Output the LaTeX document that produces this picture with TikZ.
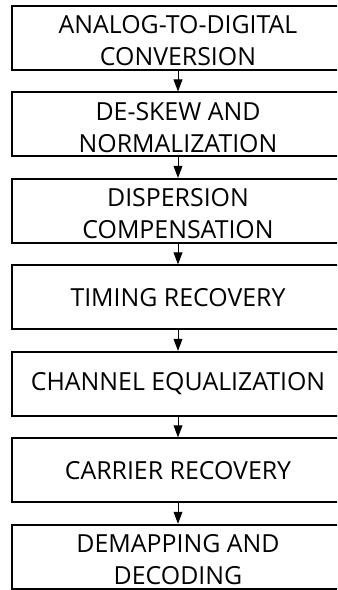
\documentclass[tikz,border=0pt]{standalone}
\usepackage{fontspec}
\setmainfont{Open Sans}
\usetikzlibrary{arrows.meta, positioning}
\newcommand{\capstrut}{\rule{0pt}{17pt}}

\begin{document}
\begin{tikzpicture}[
      node distance=0.5125cm,
      block/.style={rectangle, draw=black, line width=1.4pt,
                    minimum width=8.3cm, minimum height=1.6cm, inner sep=0pt,
                    font=\fontsize{17.7}{22.8}\selectfont, align=center},
      arr/.style={-{Triangle[length=0.3cm, width=0.22cm]}, line width=0.7pt}
    ]
    \clip (0,0) rectangle (8.425,-14.75);
    \node[block] (adc) at (4.45,-0.95) {\capstrut ANALOG-TO-DIGITAL\\CONVERSION};
    \node[block, below=of adc]     (skew)    {\capstrut DE-SKEW AND\\NORMALIZATION};
    \node[block, below=of skew]    (disp)    {\capstrut DISPERSION\\COMPENSATION};
    \node[block, below=of disp]    (timing)  {TIMING RECOVERY};
    \node[block, below=of timing]  (equal)   {CHANNEL EQUALIZATION};
    \node[block, below=of equal]   (carrier) {CARRIER RECOVERY};
    \node[block, below=of carrier] (demap)   {\capstrut DEMAPPING AND\\DECODING};
    \draw[arr] (adc) -- (skew);
    \draw[arr] (skew) -- (disp);
    \draw[arr] (disp) -- (timing);
    \draw[arr] (timing) -- (equal);
    \draw[arr] (equal) -- (carrier);
    \draw[arr] (carrier) -- (demap);
  \end{tikzpicture}
\end{document}
